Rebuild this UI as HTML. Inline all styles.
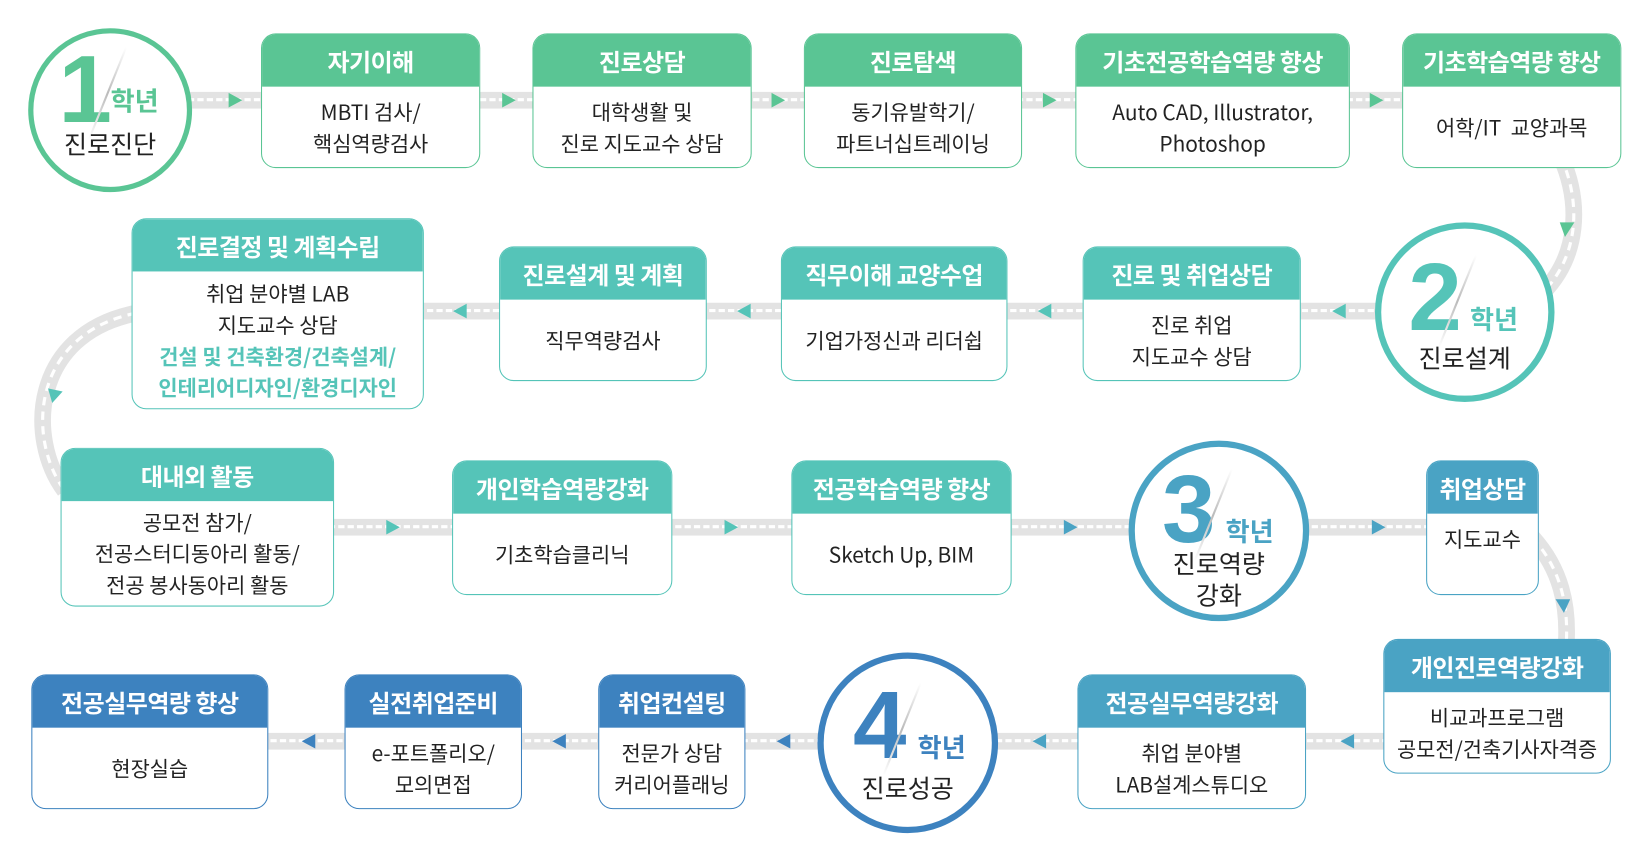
<!DOCTYPE html>
<html><head><meta charset="utf-8"><style>
html,body{margin:0;padding:0;background:#fff;width:1637px;height:843px;overflow:hidden}
#w{position:absolute;left:0;top:0;width:1568px;height:808px;transform:scale(1.04401);transform-origin:0 0;font-family:"Noto Sans CJK KR","Liberation Sans",sans-serif}
.road{position:absolute;background:#e3e3e3;height:16px}
.road:after{content:"";position:absolute;left:0;right:0;top:6px;border-top:3px dashed #fff}
.box{position:absolute;background:#fff;border:1.5px solid;border-radius:14px;overflow:hidden;box-sizing:border-box;display:flex;flex-direction:column}
.box .h{color:#fff;font-weight:bold;font-size:23px;text-align:center;display:flex;align-items:center;justify-content:center;letter-spacing:-0.5px}
.box .b{flex:1;display:flex;align-items:center;justify-content:center;text-align:center;font-size:20px;color:#222;line-height:30px}
.ar{position:absolute;width:0;height:0;border-top:7px solid transparent;border-bottom:7px solid transparent}
.r{border-left:13px solid}
.l{border-right:13px solid}
.c{position:absolute;border-radius:50%;background:#fff;box-sizing:border-box}
.c .n{position:absolute;font-weight:900;font-size:92px;line-height:92px;font-family:"Liberation Sans",sans-serif}
.c .s{position:absolute;width:2px;height:95px;background:linear-gradient(#fff,#bbb,#fff);transform:rotate(22deg)}
.c .y{position:absolute;font-weight:bold;font-size:25px}
.c .t{position:absolute;left:0;right:0;text-align:center;font-size:24px;color:#222;line-height:30px}
</style></head><body><div id="w">
<svg width="1568" height="808" style="position:absolute;left:0;top:0">
<g fill="none" stroke="#e3e3e3" stroke-width="16">
<path d="M1495,150 C1515,195 1512,245 1478,280"/>
<path d="M130,300 C30,320 25,420 62,470"/>
<path d="M1468,515 C1495,545 1503,580 1500,620"/>
</g>
<g fill="none" stroke="#fff" stroke-width="3" stroke-dasharray="8 6">
<path d="M1495,150 C1515,195 1512,245 1478,280"/>
<path d="M130,300 C30,320 25,420 62,470"/>
<path d="M1468,515 C1495,545 1503,580 1500,620"/>
</g>
<polygon points="1494,213 1508,213 1499,227" fill="#5ac594"/>
<polygon points="46,372 60,375 50,386" fill="#55c4b8"/>
<polygon points="1490,574 1504,574 1498,587" fill="#4aa3c4"/>
</svg>
<div class="road" style="left:180px;width:1170px;top:88px"></div>
<div class="road" style="left:400px;width:925px;top:290px"></div>
<div class="road" style="left:315px;width:1055px;top:497px"></div>
<div class="road" style="left:250px;width:1080px;top:702px"></div>

<div class="ar r" style="left:219px;top:89px;color:#5ac594"></div>
<div class="ar r" style="left:481px;top:89px;color:#5ac594"></div>
<div class="ar r" style="left:739px;top:89px;color:#5ac594"></div>
<div class="ar r" style="left:999px;top:89px;color:#5ac594"></div>
<div class="ar r" style="left:1312px;top:89px;color:#5ac594"></div>
<div class="ar l" style="left:1276px;top:291px;color:#55c4b8"></div>
<div class="ar l" style="left:994px;top:291px;color:#55c4b8"></div>
<div class="ar l" style="left:706px;top:291px;color:#55c4b8"></div>
<div class="ar l" style="left:434px;top:291px;color:#55c4b8"></div>
<div class="ar r" style="left:370px;top:498px;color:#55c4b8"></div>
<div class="ar r" style="left:694px;top:498px;color:#55c4b8"></div>
<div class="ar r" style="left:1019px;top:498px;color:#4aa3c4"></div>
<div class="ar r" style="left:1314px;top:498px;color:#4aa3c4"></div>
<div class="ar l" style="left:1284px;top:703px;color:#4aa3c4"></div>
<div class="ar l" style="left:989px;top:703px;color:#4aa3c4"></div>
<div class="ar l" style="left:744px;top:703px;color:#3d82bf"></div>
<div class="ar l" style="left:529px;top:703px;color:#3d82bf"></div>
<div class="ar l" style="left:289px;top:703px;color:#3d82bf"></div>

<!-- circles -->
<div class="c" style="left:27px;top:27px;width:157px;height:157px;border:5px solid #5ac594">
<div class="n" style="left:24px;top:8px;color:#5ac594">1</div><div class="s" style="left:70px;top:10px"></div>
<div class="y" style="left:74px;top:46px;color:#5ac594">학년</div>
<div class="t" style="top:90px">진로진단</div></div>
<div class="c" style="left:1317px;top:213px;width:172px;height:172px;border:6px solid #55c4b8">
<div class="n" style="left:26px;top:20px;color:#55c4b8">2</div><div class="s" style="left:72px;top:22px"></div>
<div class="y" style="left:85px;top:68px;color:#55c4b8">학년</div>
<div class="t" style="top:108px">진로설계</div></div>
<div class="c" style="left:1081px;top:422px;width:173px;height:173px;border:6px solid #4aa3c4">
<div class="n" style="left:26px;top:14px;color:#4aa3c4">3</div><div class="s" style="left:74px;top:18px"></div>
<div class="y" style="left:87px;top:62px;color:#4aa3c4">학년</div>
<div class="t" style="top:96px">진로역량<br>강화</div></div>
<div class="c" style="left:783px;top:625px;width:173px;height:173px;border:6px solid #3d82bf">
<div class="n" style="left:28px;top:18px;color:#3d82bf">4</div><div class="s" style="left:74px;top:20px"></div>
<div class="y" style="left:90px;top:66px;color:#3d82bf">학년</div>
<div class="t" style="top:108px">진로성공</div></div>

<!-- row1 -->
<div class="box" style="left:250px;top:32px;width:210px;height:129px;border-color:#5ac594"><div class="h" style="height:50px;background:#5ac594">자기이해</div><div class="b"><div>MBTI 검사/<br>핵심역량검사</div></div></div>
<div class="box" style="left:510px;top:32px;width:210px;height:129px;border-color:#5ac594"><div class="h" style="height:50px;background:#5ac594">진로상담</div><div class="b"><div>대학생활 및<br>진로 지도교수 상담</div></div></div>
<div class="box" style="left:770px;top:32px;width:209px;height:129px;border-color:#5ac594"><div class="h" style="height:50px;background:#5ac594">진로탐색</div><div class="b"><div>동기유발학기/<br>파트너십트레이닝</div></div></div>
<div class="box" style="left:1030px;top:32px;width:263px;height:129px;border-color:#5ac594"><div class="h" style="height:50px;background:#5ac594">기초전공학습역량 향상</div><div class="b"><div>Auto CAD, Illustrator,<br>Photoshop</div></div></div>
<div class="box" style="left:1343px;top:32px;width:210px;height:129px;border-color:#5ac594"><div class="h" style="height:50px;background:#5ac594">기초학습역량 향상</div><div class="b"><div>어학/IT &nbsp;교양과목</div></div></div>
<!-- row2 -->
<div class="box" style="left:126px;top:209px;width:280px;height:183px;border-color:#55c4b8"><div class="h" style="height:50px;background:#55c4b8">진로결정 및 계획수립</div><div class="b"><div style="white-space:nowrap">취업 분야별 LAB<br>지도교수 상담<br><b style="color:#55c4b8">건설 및 건축환경/건축설계/<br>인테리어디자인/환경디자인</b></div></div></div>
<div class="box" style="left:478px;top:236px;width:199px;height:129px;border-color:#55c4b8"><div class="h" style="height:50px;background:#55c4b8">진로설계 및 계획</div><div class="b"><div>직무역량검사</div></div></div>
<div class="box" style="left:748px;top:236px;width:217px;height:129px;border-color:#55c4b8"><div class="h" style="height:50px;background:#55c4b8">직무이해 교양수업</div><div class="b"><div>기업가정신과 리더쉽</div></div></div>
<div class="box" style="left:1037px;top:236px;width:209px;height:129px;border-color:#55c4b8"><div class="h" style="height:50px;background:#55c4b8">진로 및 취업상담</div><div class="b"><div>진로 취업<br>지도교수 상담</div></div></div>
<!-- row3 -->
<div class="box" style="left:58px;top:429px;width:262px;height:152px;border-color:#55c4b8"><div class="h" style="height:50px;background:#55c4b8">대내외 활동</div><div class="b"><div>공모전 참가/<br>전공스터디동아리 활동/<br>전공 봉사동아리 활동</div></div></div>
<div class="box" style="left:433px;top:441px;width:211px;height:129px;border-color:#55c4b8"><div class="h" style="height:50px;background:#55c4b8">개인학습역량강화</div><div class="b"><div>기초학습클리닉</div></div></div>
<div class="box" style="left:758px;top:441px;width:211px;height:129px;border-color:#55c4b8"><div class="h" style="height:50px;background:#55c4b8">전공학습역량 향상</div><div class="b"><div>Sketch Up, BIM</div></div></div>
<div class="box" style="left:1366px;top:441px;width:108px;height:129px;border-color:#4aa3c4"><div class="h" style="height:50px;background:#4aa3c4">취업상담</div><div class="b" style="padding-bottom:30px"><div>지도교수</div></div></div>
<!-- row4 -->
<div class="box" style="left:1325px;top:612px;width:218px;height:129px;border-color:#4aa3c4"><div class="h" style="height:50px;background:#4aa3c4">개인진로역량강화</div><div class="b"><div>비교과프로그램<br>공모전/건축기사자격증</div></div></div>
<div class="box" style="left:1032px;top:646px;width:219px;height:129px;border-color:#4aa3c4"><div class="h" style="height:50px;background:#4aa3c4">전공실무역량강화</div><div class="b"><div>취업 분야별<br>LAB설계스튜디오</div></div></div>
<div class="box" style="left:573px;top:646px;width:141px;height:129px;border-color:#3d82bf"><div class="h" style="height:50px;background:#3d82bf">취업컨설팅</div><div class="b"><div>전문가 상담<br>커리어플래닝</div></div></div>
<div class="box" style="left:330px;top:646px;width:170px;height:129px;border-color:#3d82bf"><div class="h" style="height:50px;background:#3d82bf">실전취업준비</div><div class="b"><div>e-포트폴리오/<br>모의면접</div></div></div>
<div class="box" style="left:30px;top:646px;width:227px;height:129px;border-color:#3d82bf"><div class="h" style="height:50px;background:#3d82bf">전공실무역량 향상</div><div class="b"><div>현장실습</div></div></div>
</div></body></html>
